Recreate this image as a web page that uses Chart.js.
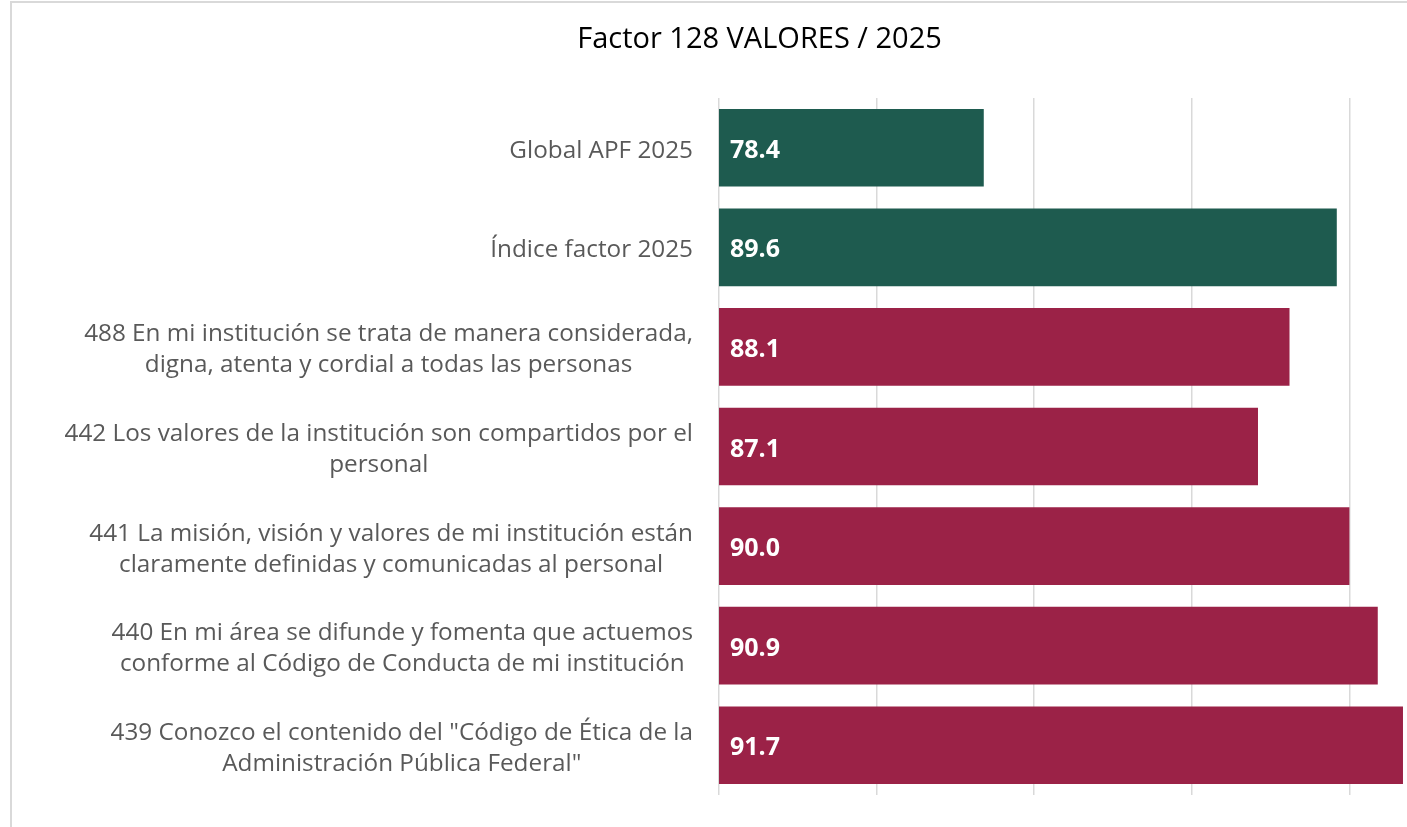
<!DOCTYPE html>
<html lang="es">
<head>
<meta charset="utf-8">
<title>Factor 128 VALORES / 2025</title>
<script src="https://cdn.jsdelivr.net/npm/chart.js@4.4.1/dist/chart.umd.min.js"></script>
<style>
  html, body { margin: 0; padding: 0; background: #fff; overflow: hidden; }
  #frame {
    position: absolute;
    left: 10px;
    top: 1px;
    width: 1495px;
    height: 900px;
    border: 2px solid #d9d9d9;
  }
  #chart { display: block; }
</style>
</head>
<body>
<div id="frame">
  <canvas id="chart" width="1495" height="900"></canvas>
</div>
<script>
const chartTitle = 'Factor 128 VALORES / 2025';
const categories = [
  ['Global APF 2025'],
  ['Índice factor 2025'],
  ['488 En mi institución se trata de manera considerada,', 'digna, atenta y cordial a todas las personas'],
  ['442 Los valores de la institución son compartidos por el', 'personal'],
  ['441 La misión, visión y valores de mi institución están', 'claramente definidas y comunicadas al personal'],
  ['440 En mi área se difunde y fomenta que actuemos', 'conforme al Código de Conducta de mi institución'],
  ['439 Conozco el contenido del "Código de Ética de la', 'Administración Pública Federal"']
];
const scores = [78.4, 89.6, 88.1, 87.1, 90.0, 90.9, 91.7];
const groups = ['apf', 'apf', 'item', 'item', 'item', 'item', 'item'];

const GREEN = '#1e5b4f';
const MAROON = '#9b2247';
const FONT = "'Open Sans', 'Noto Sans', sans-serif";

// title centred over the whole canvas
const titleText = {
  id: 'titleText',
  afterDraw(chart) {
    const c = chart.ctx;
    c.save();
    c.font = '29px ' + FONT;
    c.fillStyle = '#000000';
    c.textAlign = 'center';
    c.textBaseline = 'middle';
    c.fillText(chartTitle, chart.width / 2, 37);
    c.restore();
  }
};

// category labels: block right-aligned to the axis, lines centred inside it
const sideLabels = {
  id: 'sideLabels',
  afterDraw(chart) {
    const c = chart.ctx;
    const y = chart.scales.y;
    const right = chart.chartArea.left - 26;
    c.save();
    c.font = '24.3px ' + FONT;
    c.fillStyle = '#595959';
    c.textAlign = 'center';
    c.textBaseline = 'middle';
    categories.forEach((lines, i) => {
      const w = Math.max(...lines.map(l => c.measureText(l).width));
      const cx = right - w / 2;
      const cy = y.getPixelForValue(i) + 3;
      lines.forEach((l, j) => {
        c.fillText(l, cx, cy + (j - (lines.length - 1) / 2) * 31);
      });
    });
    c.restore();
  }
};

// value printed inside each bar, near its base
const barValues = {
  id: 'barValues',
  afterDatasetsDraw(chart) {
    const c = chart.ctx;
    const x = chart.scales.x;
    const y = chart.scales.y;
    c.save();
    c.font = 'bold 25px ' + FONT;
    c.fillStyle = '#ffffff';
    c.textAlign = 'left';
    c.textBaseline = 'middle';
    scores.forEach((v, i) => {
      c.fillText(v.toFixed(1), x.getPixelForValue(x.min) + 11, y.getPixelForValue(i) + 3);
    });
    c.restore();
  }
};

new Chart(document.getElementById('chart').getContext('2d'), {
  type: 'bar',
  data: {
    labels: categories.map(l => l.join(' ')),
    datasets: [{
      data: scores,
      backgroundColor: groups.map(g => g === 'apf' ? GREEN : MAROON),
      borderWidth: 0,
      barPercentage: 0.78,
      categoryPercentage: 1
    }]
  },
  options: {
    indexAxis: 'y',
    responsive: false,
    animation: false,
    layout: { padding: { top: 95, bottom: 108, left: 0, right: 0 } },
    scales: {
      x: {
        min: 70,
        max: 95,
        ticks: { display: false, stepSize: 5 },
        grid: { color: '#d9d9d9', lineWidth: 1.5, drawTicks: false },
        border: { display: false }
      },
      y: {
        ticks: { display: false },
        grid: { display: false },
        border: { display: false },
        afterFit(scale) { scale.width = 707; }
      }
    },
    plugins: {
      legend: { display: false },
      tooltip: { enabled: false },
      title: { display: false }
    }
  },
  plugins: [titleText, sideLabels, barValues]
});
</script>
</body>
</html>
